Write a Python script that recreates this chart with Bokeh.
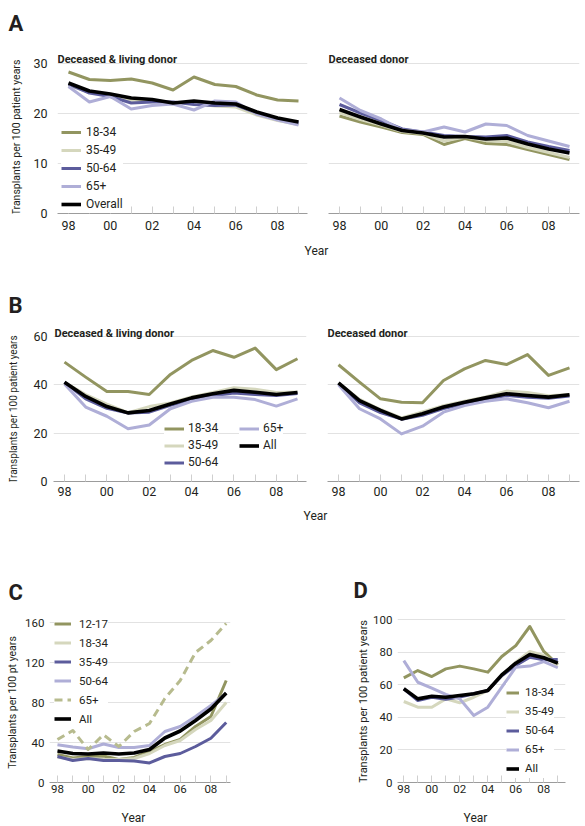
import math
from bokeh.plotting import figure
from bokeh.models import Label, Legend, LegendItem, FixedTicker, Range1d
from bokeh.layouts import column, row
from bokeh.embed import file_html
from bokeh.resources import INLINE

# ---------------- data ----------------
years = list(range(1998, 2010))
year_tick_labels = ["98", "", "00", "", "02", "", "04", "", "06", "", "08", ""]

a_groups = ["18-34", "35-49", "50-64", "65+", "Overall"]
a_all_18_34 = [28.3, 26.8, 26.6, 26.9, 26.1, 24.7, 27.3, 25.8, 25.4, 23.7, 22.7, 22.5]
a_all_35_49 = [25.6, 24.3, 23.7, 22.6, 22.6, 22.2, 22.0, 21.5, 21.3, 19.7, 18.6, 17.8]
a_all_50_64 = [25.9, 24.1, 23.4, 22.1, 22.3, 22.3, 21.8, 21.6, 21.7, 20.1, 18.9, 18.1]
a_all_65 = [25.4, 22.3, 23.4, 20.9, 21.6, 21.9, 20.7, 22.5, 22.3, 19.9, 18.7, 17.7]
a_all_overall = [26.1, 24.5, 23.9, 23.1, 22.8, 22.1, 22.5, 22.1, 21.9, 20.3, 19.1, 18.3]
a_dec_18_34 = [19.5, 18.3, 17.3, 16.2, 15.8, 13.8, 15.0, 14.0, 13.8, 12.8, 11.8, 10.8]
a_dec_35_49 = [20.2, 18.8, 17.7, 16.4, 16.0, 14.5, 15.3, 14.6, 14.4, 13.2, 12.2, 11.2]
a_dec_50_64 = [21.8, 20.1, 18.6, 16.9, 16.3, 15.6, 15.4, 15.3, 15.6, 14.3, 13.4, 12.6]
a_dec_65 = [23.1, 20.6, 18.9, 16.7, 16.3, 17.3, 16.3, 17.9, 17.6, 15.6, 14.5, 13.4]
a_dec_overall = [20.8, 19.3, 17.9, 16.6, 16.1, 15.3, 15.4, 14.9, 15.1, 13.9, 12.9, 12.1]
a_yticks = [0, 10, 20, 30]

b_groups = ["18-34", "35-49", "50-64", "65+", "All"]
b_all_18_34 = [49.4, 43.2, 37.2, 37.2, 36.0, 44.3, 50.1, 54.2, 51.4, 55.2, 46.3, 50.8]
b_all_35_49 = [41.0, 36.0, 32.0, 28.5, 31.0, 32.5, 35.0, 36.8, 38.8, 38.2, 36.8, 37.0]
b_all_50_64 = [41.0, 34.2, 30.3, 28.3, 28.7, 31.5, 33.8, 35.5, 36.6, 36.0, 35.6, 36.4]
b_all_65 = [40.4, 30.8, 27.0, 21.8, 23.4, 30.1, 33.2, 34.9, 34.9, 33.9, 31.2, 34.2]
b_all_all = [41.1, 35.2, 31.0, 28.4, 29.4, 32.1, 34.6, 36.3, 37.7, 36.9, 36.0, 36.8]
b_dec_18_34 = [48.3, 41.1, 34.2, 32.8, 32.6, 41.8, 46.6, 50.1, 48.4, 52.5, 43.9, 47.0]
b_dec_35_49 = [40.8, 34.0, 29.8, 26.3, 28.8, 31.4, 33.2, 35.0, 37.4, 36.8, 35.5, 36.0]
b_dec_50_64 = [40.5, 32.5, 28.5, 25.8, 27.4, 30.2, 32.2, 34.0, 35.6, 34.9, 34.4, 35.4]
b_dec_65 = [40.0, 30.1, 25.9, 19.7, 22.9, 28.7, 31.4, 33.2, 34.2, 32.6, 30.5, 33.2]
b_dec_all = [40.8, 33.5, 29.4, 25.9, 28.0, 30.8, 32.8, 34.6, 36.3, 35.6, 34.9, 35.9]
b_yticks = [0, 20, 40, 60]

c_groups = ["12-17", "18-34", "35-49", "50-64", "65+", "All"]
c_12_17 = [28, 24.5, 26, 26.5, 23, 25, 31, 38, 43, 56, 66, 102]
c_18_34 = [25.5, 23, 24, 23, 23, 24, 29, 37, 42, 53, 62, 80]
c_35_49 = [26, 22, 24, 22, 22, 21.5, 19.6, 26, 29, 36, 44.3, 60]
c_50_64 = [37.8, 35.5, 33.8, 38.5, 35, 35, 37, 51, 56, 66, 77, 89]
c_65 = [43, 52, 33, 47.7, 36, 51, 59, 84, 102, 130, 142, 159]
c_all = [31.5, 29, 28.5, 29.5, 28.5, 29.5, 33, 44.5, 51.5, 62, 73.5, 89.5]
c_yticks = [0, 40, 80, 120, 160]

d_groups = ["18-34", "35-49", "50-64", "65+", "All"]
d_18_34 = [64.2, 68.7, 65, 69.7, 71.4, 69.7, 67.7, 77.3, 84, 95.7, 80.4, 72.4]
d_35_49 = [49.7, 46.2, 46.2, 51.3, 48.9, 52.3, 56.4, 65.5, 73.8, 80.4, 77.9, 71.8]
d_50_64 = [57.5, 50.3, 52.3, 51, 52.5, 54.4, 56.4, 65.5, 71.8, 76.9, 75.3, 75.5]
d_65 = [74.8, 61.5, 57.9, 54, 51.3, 41.1, 46.2, 58.5, 70.7, 71.4, 74.2, 70.4]
d_all = [57.5, 51.3, 52.9, 52.3, 53.4, 54.4, 56.4, 66, 73.2, 78.5, 76.5, 73.2]
d_yticks = [0, 20, 40, 60, 80, 100]

panel_letters = ["A", "B", "C", "D"]
title_all = "Deceased & living donor"
title_dec = "Deceased donor"
ylabel_long = "Transplants per 100 patient years"
ylabel_short = "Transplants per 100 pt years"
xlabel = "Year"

# ---------------- styles ----------------
FONT = "Roboto"
OLIVE = "#929560"
PALE = "#d5d7bd"
NAVY = "#5c5c9c"
LAV = "#afaed7"
BLACK = "#000000"
OLIVE_LT = "#b7bb8e"
GRID = "#e2e2e2"
AXIS = "#9c9c9c"
TICKC = "#cfcfcf"
TXT = "#231f20"
CW = 3.0   # coloured line width
BW = 3.6   # black line width


def lin(v0, p0, v1, p1, q):
    return v0 + (q - p0) * (v1 - v0) / (p1 - p0)


def make_fig(canvas, frame, xmap, ymap, yticks, show_y, ystand, xstand, tick_size):
    cl, ct, cr, cb = canvas
    fl, ft, fr, fb = frame
    xr = Range1d(lin(*xmap, fl), lin(*xmap, fr))
    yr = Range1d(lin(*ymap, fb), lin(*ymap, ft))
    p = figure(width=cr - cl, height=cb - ct, x_range=xr, y_range=yr,
               output_backend="svg", toolbar_location=None,
               y_axis_location="left" if show_y else None,
               min_border_left=fl - cl, min_border_right=cr - fr,
               min_border_top=ft - ct, min_border_bottom=cb - fb)
    p.outline_line_color = None
    p.background_fill_color = "white"
    p.border_fill_color = "white"
    p.xgrid.visible = False
    p.ygrid.ticker = FixedTicker(ticks=[t for t in yticks if t != 0])
    p.ygrid.grid_line_color = GRID
    p.ygrid.grid_line_width = 1
    xa = p.xaxis[0]
    xa.ticker = FixedTicker(ticks=years, minor_ticks=[])
    xa.major_label_overrides = {y: lab for y, lab in zip(years, year_tick_labels)}
    xa.axis_line_color = AXIS
    xa.axis_line_width = 1
    xa.major_tick_line_color = TICKC
    xa.major_tick_in = 7
    xa.major_tick_out = 0
    xa.minor_tick_line_color = None
    xa.major_label_standoff = xstand
    xa.major_label_text_font = FONT
    xa.major_label_text_font_size = tick_size
    xa.major_label_text_color = TXT
    if show_y:
        ya = p.yaxis[0]
        ya.ticker = FixedTicker(ticks=yticks, minor_ticks=[])
        ya.axis_line_color = None
        ya.major_tick_line_color = None
        ya.minor_tick_line_color = None
        ya.major_tick_out = 0
        ya.major_tick_in = 0
        ya.major_label_standoff = ystand
        ya.major_label_text_font = FONT
        ya.major_label_text_font_size = tick_size
        ya.major_label_text_color = TXT
    p._frame = frame
    return p


def strip(box, frame=None):
    """Blank text-only figure; `frame` is the frame it ends up with after
    Bokeh aligns it with the plots in the same row."""
    l, t, r, b = box
    p = figure(width=r - l, height=b - t, x_range=Range1d(0, 1), y_range=Range1d(0, 1),
               x_axis_location=None, y_axis_location=None, min_border=0,
               output_backend="svg", toolbar_location=None)
    p.outline_line_color = None
    p.background_fill_color = "white"
    p.border_fill_color = "white"
    p.xgrid.visible = False
    p.ygrid.visible = False
    p._frame = frame if frame is not None else box
    return p


def text(p, px, py, s, size, style="normal", align="left",
         baseline="alphabetic", angle=0.0):
    fl, ft, fr, fb = p._frame
    p.add_layout(Label(x=px - fl, y=fb - py, x_units="screen", y_units="screen",
                       text=s, text_font=FONT, text_font_size=size,
                       text_font_style=style, text_color=TXT, text_align=align,
                       text_baseline=baseline, angle=angle))


def lines(p, series):
    rs = []
    for data, color, w, dash in series:
        r = p.line(years, data, line_color=color, line_width=w,
                   line_join="round", line_cap="butt", line_dash=dash)
        rs.append(r)
    return rs


def legend(p, labels, rends, box_left, box_bottom, gw, gh, standoff, pad, size):
    fl, ft, fr, fb = p._frame
    leg = Legend(items=[LegendItem(label=l, renderers=[r]) for l, r in zip(labels, rends)],
                 location=(box_left - fl, fb - box_bottom),
                 glyph_width=gw, glyph_height=gh, label_height=gh,
                 label_standoff=standoff, padding=pad, spacing=0, margin=0,
                 border_line_color=None, background_fill_color="white",
                 background_fill_alpha=1.0,
                 label_text_font=FONT, label_text_font_size=size,
                 label_text_color=TXT, label_text_baseline="middle")
    p.add_layout(leg, "center")


def series5(d1, d2, d3, d4, d5):
    return [(d1, OLIVE, CW, "solid"), (d2, PALE, CW, "solid"), (d3, NAVY, CW, "solid"),
            (d4, LAV, CW, "solid"), (d5, BLACK, BW, "solid")]


# ---------------- Row A ----------------
sA = strip((0, 0, 585, 40))
text(sA, 8, 23, panel_letters[0], "22px", "bold")

yA = strip((0, 40, 28, 236), (0, 46, 28, 213))
text(yA, 16, 137, ylabel_long, "10.5px", align="center", baseline="middle", angle=math.pi / 2)

pa1 = make_fig((28, 40, 328, 236), (57, 46, 307, 213), (1998, 68, 2009, 298),
               (0, 213, 30, 63), a_yticks, True, 10, 7, "12.5px")
ra1 = lines(pa1, series5(a_all_18_34, a_all_35_49, a_all_50_64, a_all_65, a_all_overall))
legend(pa1, a_groups, ra1, 61, 213, 20, 18, 5, 4, "12px")
text(pa1, 57, 59, title_all, "11px", "bold")

pa2 = make_fig((328, 40, 585, 236), (328, 46, 579, 213), (1998, 339, 2009, 569),
               (0, 213, 30, 63), a_yticks, False, 10, 7, "12.5px")
lines(pa2, series5(a_dec_18_34, a_dec_35_49, a_dec_50_64, a_dec_65, a_dec_overall))
text(pa2, 328, 59, title_dec, "11px", "bold")

xA = strip((0, 236, 585, 258))
text(xA, 316, 250, xlabel, "12px", align="center")

# ---------------- Row B ----------------
sB = strip((0, 258, 585, 318))
text(sB, 8, 305, panel_letters[1], "22px", "bold")

yB = strip((0, 318, 28, 502), (0, 318, 28, 481))
text(yB, 13, 409, ylabel_long, "10px", align="center", baseline="middle", angle=math.pi / 2)

pb1 = make_fig((28, 318, 327, 502), (53, 318, 306, 481), (1998, 64, 2009, 297),
               (0, 481, 60, 336), b_yticks, True, 6, 5, "12.5px")
rb1 = lines(pb1, series5(b_all_18_34, b_all_35_49, b_all_50_64, b_all_65, b_all_all))
legend(pb1, b_groups[:3], rb1[:3], 164, 470.5, 20, 17, 4, 4, "12px")
legend(pb1, b_groups[3:], rb1[3:], 239, 453.5, 20, 17, 4, 4, "12px")
text(pb1, 54, 333, title_all, "11px", "bold")

pb2 = make_fig((327, 318, 585, 502), (327, 318, 579, 481), (1998, 338, 2009, 569),
               (0, 481, 60, 336), b_yticks, False, 6, 5, "12.5px")
lines(pb2, series5(b_dec_18_34, b_dec_35_49, b_dec_50_64, b_dec_65, b_dec_all))
text(pb2, 327, 333, title_dec, "11px", "bold")

xB = strip((0, 502, 585, 523))
text(xB, 315, 515, xlabel, "12px", align="center")

# ---------------- Row C / D ----------------
sCD = strip((0, 523, 585, 605))
text(sCD, 8, 592, panel_letters[2], "22px", "bold")
text(sCD, 353, 590, panel_letters[3], "22px", "bold")

yC = strip((0, 605, 22, 798), (0, 605, 22, 782))
text(yC, 12, 702, ylabel_short, "10.5px", align="center", baseline="middle", angle=math.pi / 2)

pc = make_fig((22, 605, 340, 798), (48, 605, 230, 782), (1998, 56, 2009, 225.7),
              (0, 782, 160, 622), c_yticks, True, 5, 2, "11.5px")
rc = lines(pc, [(c_12_17, OLIVE, CW, "solid"), (c_18_34, PALE, CW, "solid"),
                (c_35_49, NAVY, CW, "solid"), (c_50_64, LAV, CW, "solid"),
                (c_65, OLIVE_LT, CW, "8 5"), (c_all, BLACK, BW, "solid")])
legend(pc, c_groups, rc, 53, 728, 17, 19, 8, 2, "11.5px")

yD = strip((340, 605, 370, 798), (340, 605, 370, 782))
text(yD, 363, 701, ylabel_long, "11px", align="center", baseline="middle", angle=math.pi / 2)

pd = make_fig((370, 605, 585, 798), (397, 605, 565, 782), (1998, 403.3, 2009, 557.3),
              (0, 782, 100, 619), d_yticks, True, 5, 2, "11.5px")
rd = lines(pd, series5(d_18_34, d_35_49, d_50_64, d_65, d_all))
legend(pd, d_groups, rd, 506, 777.5, 13, 19, 6, 4, "11.5px")

xCD = strip((0, 798, 585, 826))
text(xCD, 133, 817, xlabel, "12px", align="center")
text(xCD, 475, 817, xlabel, "12px", align="center")

layout = column(sA, row(yA, pa1, pa2), xA,
                sB, row(yB, pb1, pb2), xB,
                sCD, row(yC, pc, yD, pd), xCD)
open("out.html", "w").write(file_html(layout, INLINE))
